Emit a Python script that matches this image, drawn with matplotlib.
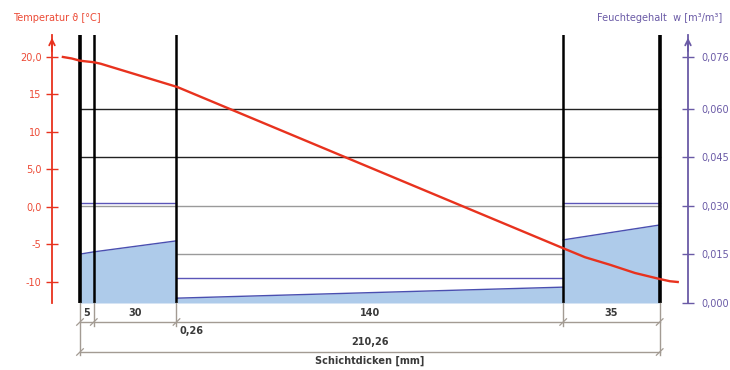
import numpy as np
import matplotlib
matplotlib.use("Agg")
import matplotlib.pyplot as plt
from matplotlib.transforms import blended_transform_factory

# ---------------- data ----------------
layer_thickness = [5, 30, 0.26, 140, 35]              # mm
layer_labels = ["5", "30", "0,26", "140", "35"]
total_label = "210,26"

# temperature profile (position mm, temperature °C)
temp_x = [-6.2, -3.0, 0.0, 5.0, 7.5, 35.26, 175.26, 183.2, 192.2, 201.3, 210.26, 214.0, 216.8]
temp_y = [20.0, 19.8, 19.5, 19.3, 19.1, 16.0, -5.5, -6.7, -7.7, -8.8, -9.6, -9.9, -10.0]

# moisture content at start / end of each layer [m³/m³]
w_start = [0.0151, 0.0158, 0.0015, 0.0015, 0.0195]
w_end   = [0.0158, 0.0192, 0.0015, 0.0049, 0.0241]

temp_ticks = [20, 15, 10, 5, 0, -5, -10]
temp_ticklabels = ["20,0", "15", "10", "5,0", "0,0", "-5", "-10"]
w_ticks = [0.076, 0.060, 0.045, 0.030, 0.015, 0.000]
w_ticklabels = ["0,076", "0,060", "0,045", "0,030", "0,015", "0,000"]

# reference lines: (w value, layer indices, colour key)
ref_lines = [
    (0.060, [0, 1, 2, 3, 4], "black"),
    (0.045, [0, 1, 2, 3, 4], "black"),
    (0.030, [0, 1, 2, 3, 4], "gray"),
    (0.031, [0, 1], "purple"),
    (0.031, [4], "purple"),
    (0.015, [3], "gray"),
    (0.0077, [3], "purple"),
]

# ---------------- style ----------------
RED = "#e8321e"
RED_TXT = "#ec4a36"
PURPLE = "#6a5aa6"
BLUE_LINE = "#4a4fb0"
FILL = "#aecbea"
GRAY = "#9a9a9a"
DIMC = "#a39b93"
TXT = "#3a3a3a"
colors = {"black": "#222222", "gray": GRAY, "purple": "#5b55b8"}

plt.rcParams["font.family"] = ["DejaVu Sans"]

W, H = 730, 370
fig = plt.figure(figsize=(W / 100, H / 100), dpi=100)
L, R, B, T = 52, 688, 303, 35
ax = fig.add_axes([L / W, (H - B) / H, (R - L) / W, (B - T) / H])
ax2 = ax.twinx()

bounds = np.concatenate([[0], np.cumsum(layer_thickness)])
px_per_mm = 2.757
ax.set_xlim((L - 80) / px_per_mm, (R - 80) / px_per_mm)
ax.set_ylim(-12.8, 22.93)
ax2.set_ylim(0, (B - T) / 3237)

# moisture fills
for i in range(len(layer_thickness)):
    xs = [bounds[i], bounds[i + 1]]
    ys = [w_start[i], w_end[i]]
    ax2.fill_between(xs, 0, ys, color=FILL, lw=0, zorder=1)
    ax2.plot(xs, ys, color=BLUE_LINE, lw=1.0, zorder=2)

# reference lines
for val, layers, ck in ref_lines:
    x0 = bounds[min(layers)]
    x1 = bounds[max(layers) + 1]
    ax2.plot([x0, x1], [val, val], color=colors[ck], lw=1.0, zorder=2)

# layer boundaries
for i, b in enumerate(bounds):
    if i == 3:
        continue
    lw = 2.6 if i in (0, len(bounds) - 1) else 1.8
    ax2.axvline(b, color="black", lw=lw, zorder=4)

# temperature curve
ax.set_zorder(ax2.get_zorder() + 1)
ax.patch.set_visible(False)
ax.plot(temp_x, temp_y, color=RED, lw=1.7, zorder=5, clip_on=False,
        solid_joinstyle="round")

# spines
for a in (ax, ax2):
    for s in ("top", "bottom", "left", "right"):
        a.spines[s].set_visible(False)
ax.spines["left"].set_visible(True)
ax.spines["left"].set_color(RED)
ax.spines["left"].set_linewidth(1.3)
ax2.spines["right"].set_visible(True)
ax2.spines["right"].set_color(PURPLE)
ax2.spines["right"].set_linewidth(1.3)
ax.set_xticks([])

ax.set_yticks(temp_ticks)
ax.set_yticklabels(temp_ticklabels)
ax.tick_params(axis="y", colors=RED, labelcolor=RED_TXT, direction="inout",
               length=9, width=1.0, labelsize=7, pad=3)
ax2.set_yticks(w_ticks)
ax2.set_yticklabels(w_ticklabels)
ax2.tick_params(axis="y", colors=PURPLE, labelcolor=PURPLE, direction="inout",
                length=9, width=1.0, labelsize=7, pad=5)

# arrow heads on the axes
ax.annotate("", xy=(0, 1.0), xycoords="axes fraction", xytext=(0, 0.93),
            arrowprops=dict(arrowstyle="->", color=RED, lw=1.3, mutation_scale=10),
            annotation_clip=False)
ax2.annotate("", xy=(1, 1.0), xycoords="axes fraction", xytext=(1, 0.93),
             arrowprops=dict(arrowstyle="->", color=PURPLE, lw=1.3, mutation_scale=10),
             annotation_clip=False)

# titles
fig.text(13 / W, (H - 18) / H, "Temperatur ϑ [°C]", color=RED_TXT, fontsize=7,
         ha="left", va="center")
fig.text(722 / W, (H - 18) / H, "Feuchtegehalt  w [m³/m³]", color=PURPLE,
         fontsize=7, ha="right", va="center")

# dimension lines below
tr = blended_transform_factory(ax.transData, ax.transAxes)
def fy(py):
    return (B - py) / (B - T)

y_dim1, y_dim2 = fy(322), fy(352)
ax.plot([bounds[0], bounds[-1]], [y_dim1, y_dim1], transform=tr, color=DIMC,
        lw=1.0, clip_on=False)
ax.plot([bounds[0], bounds[-1]], [y_dim2, y_dim2], transform=tr, color=DIMC,
        lw=1.0, clip_on=False)
for i, b in enumerate(bounds):
    if i == 3:
        continue
    ylow = y_dim2 - 0.01 if i in (0, len(bounds) - 1) else y_dim1 - 0.015
    ax.plot([b, b], [0, ylow], transform=tr, color=DIMC, lw=1.0, clip_on=False)
    ax.plot([b - 1.2, b + 1.2], [y_dim1 - 0.012, y_dim1 + 0.012], transform=tr,
            color=DIMC, lw=0.9, clip_on=False)
for b in (bounds[0], bounds[-1]):
    ax.plot([b - 1.2, b + 1.2], [y_dim2 - 0.012, y_dim2 + 0.012], transform=tr,
            color=DIMC, lw=0.9, clip_on=False)

for i, lab in enumerate(layer_labels):
    mid = (bounds[i] + bounds[i + 1]) / 2
    if lab == "0,26":
        ax.text(bounds[i] + 1.0, fy(331), lab, transform=tr, ha="left",
                va="center", fontsize=7, color=TXT, fontweight="bold")
    else:
        ax.text(mid, fy(313), lab, transform=tr, ha="center", va="center",
                fontsize=7, color=TXT, fontweight="bold")
ax.text((bounds[0] + bounds[-1]) / 2, fy(342), total_label, transform=tr,
        ha="center", va="center", fontsize=7, color=TXT, fontweight="bold")
ax.text((bounds[0] + bounds[-1]) / 2, fy(361), "Schichtdicken [mm]", transform=tr,
        ha="center", va="center", fontsize=7, color=TXT, fontweight="bold")

fig.savefig("out.png", dpi=100)
